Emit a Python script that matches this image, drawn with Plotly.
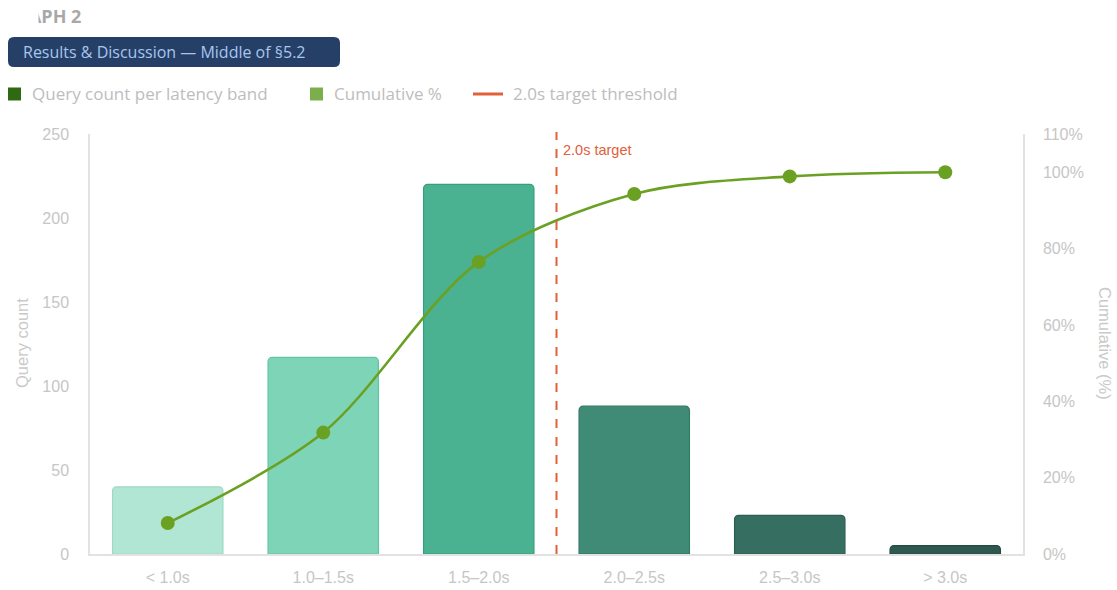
import plotly.graph_objects as go

categories = ["< 1.0s", "1.0–1.5s", "1.5–2.0s", "2.0–2.5s", "2.5–3.0s", "> 3.0s"]
query_counts = [40, 117, 220, 88, 23, 5]
cumulative_pct = [8.1, 31.8, 76.5, 94.3, 98.9, 100.0]
bar_colors = ["#B2E6D4", "#7ED4B7", "#4AB191", "#3F8B76", "#366E62", "#2F5950"]
bar_borders = ["#9ED9C4", "#62C4A4", "#35A07E", "#317A66", "#2A5E52", "#244A42"]
threshold_pos = 2.5  # between 1.5–2.0s and 2.0–2.5s
legend_labels = ["Query count per latency band", "Cumulative %", "2.0s target threshold"]
legend_colors = ["#2E6A14", "#7DAE4D", "#E0603A"]

W, H = 1117, 590
L, R, T, B = 90, 94, 134, 36
pw, ph = W - L - R, H - T - B


def px(x):
    return (x - L) / pw


def py(y):
    return (H - B - y) / ph


fig = go.Figure()

fig.add_trace(go.Bar(
    x=categories, y=query_counts,
    marker=dict(color=bar_colors, line=dict(color=bar_borders, width=1.2), cornerradius=4),
    width=0.71, showlegend=False, name="Query count",
))

fig.add_trace(go.Scatter(
    x=categories, y=cumulative_pct, yaxis="y2", mode="lines+markers",
    line=dict(color="#6BA123", width=2.6, shape="spline", smoothing=0.9),
    marker=dict(color="#6BA123", size=14),
    showlegend=False, name="Cumulative %",
))

fig.add_shape(type="line", xref="x", yref="paper", x0=threshold_pos, x1=threshold_pos,
              y0=0, y1=py(132), line=dict(color="#E0603A", width=2, dash="dash"))
fig.add_annotation(x=threshold_pos, xref="x", y=py(150), yref="paper", text="2.0s target",
                   showarrow=False, xanchor="left", yanchor="middle", xshift=4,
                   font=dict(family="Liberation Sans, Arial", size=14.5, color="#E0603A"))

# manual legend
leg_font = dict(family="Open Sans, Noto Sans", size=17, color="#BDBDBD")
leg_y = 94
sq = [(8, 30), (310, 332)]
for i, (sx, tx) in enumerate(sq):
    fig.add_shape(type="rect", xref="paper", yref="paper", x0=px(sx), x1=px(sx + 13),
                  y0=py(leg_y + 6.5), y1=py(leg_y - 6.5), fillcolor=legend_colors[i],
                  line=dict(width=0))
    fig.add_annotation(x=px(tx), y=py(leg_y), xref="paper", yref="paper", xanchor="left",
                       yanchor="middle", text=legend_labels[i], showarrow=False, font=leg_font)
fig.add_shape(type="line", xref="paper", yref="paper", x0=px(473), x1=px(503),
              y0=py(leg_y), y1=py(leg_y), line=dict(color=legend_colors[2], width=3))
fig.add_annotation(x=px(511), y=py(leg_y), xref="paper", yref="paper", xanchor="left",
                   yanchor="middle", text=legend_labels[2], showarrow=False, font=leg_font)

# badge
x0, x1, y0, y1, r = 8, 340, 37, 67, 6
rx, ry = r / pw, r / ph
X0, X1, Y0, Y1 = px(x0), px(x1), py(y1), py(y0)
path = (f"M {X0+rx},{Y0} L {X1-rx},{Y0} Q {X1},{Y0} {X1},{Y0+ry} L {X1},{Y1-ry} "
        f"Q {X1},{Y1} {X1-rx},{Y1} L {X0+rx},{Y1} Q {X0},{Y1} {X0},{Y1-ry} "
        f"L {X0},{Y0+ry} Q {X0},{Y0} {X0+rx},{Y0} Z")
fig.add_shape(type="path", path=path, xref="paper", yref="paper",
              fillcolor="#253F66", line=dict(width=0), layer="above")
fig.add_annotation(x=px(21), y=py(52), xref="paper", yref="paper", xanchor="left", yanchor="middle",
                   text="Results & Discussion — Middle of §5.2", showarrow=False,
                   font=dict(family="Open Sans, Noto Sans", size=16, color="#A8C6EE"))

# clipped section label
fig.add_annotation(x=px(83), y=py(16), xref="paper", yref="paper", xanchor="right", yanchor="middle",
                   text="<b>GRAPH 2</b>", showarrow=False,
                   font=dict(family="Open Sans, Noto Sans", size=18, color="#A8A8A8"))
fig.add_annotation(x=px(0), y=py(16), xref="paper", yref="paper", xanchor="left", yanchor="middle",
                   text=" ", showarrow=False, width=37, height=26, bgcolor="white",
                   borderpad=0, font=dict(size=10))

# axis titles
title_font = dict(family="Liberation Sans, Arial", size=16.5, color="#CACACA")
fig.add_annotation(x=px(22), y=py(343), xref="paper", yref="paper", text="Query count",
                   textangle=-90, showarrow=False, font=title_font, xanchor="center", yanchor="middle")
fig.add_annotation(x=px(1105), y=py(343), xref="paper", yref="paper", text="Cumulative (%)",
                   textangle=90, showarrow=False, font=title_font, xanchor="center", yanchor="middle")

tick_font = dict(family="Liberation Sans, Arial", size=16, color="#C6C6C6")

fig.update_layout(
    width=W, height=H,
    margin=dict(l=L, r=R, t=T, b=B, autoexpand=False),
    paper_bgcolor="white", plot_bgcolor="white",
    barmode="overlay",
    showlegend=False,
    xaxis=dict(type="category", showgrid=False, showline=True, linecolor="#E2E2E2", linewidth=1.5,
               tickfont=tick_font, ticks="", ticklabelstandoff=8, range=[-0.5, 5.5],
               automargin=False),
    yaxis=dict(range=[0, 250], tickvals=[0, 50, 100, 150, 200, 250], showgrid=False,
               showline=True, linecolor="#E2E2E2", linewidth=1.5, zeroline=False,
               tickfont=tick_font, ticks="", ticklabelstandoff=16, automargin=False),
    yaxis2=dict(range=[0, 110], overlaying="y", side="right", tickvals=[0, 20, 40, 60, 80, 100, 110],
                ticktext=["0%", "20%", "40%", "60%", "80%", "100%", "110%"],
                showgrid=False, showline=True, linecolor="#E2E2E2", linewidth=1.5, zeroline=False,
                tickfont=tick_font, ticks="", ticklabelstandoff=15, automargin=False),
)

fig.write_html("out.html", config={"displayModeBar": False},
               post_script="document.body.style.margin='0';document.body.style.padding='0';")
